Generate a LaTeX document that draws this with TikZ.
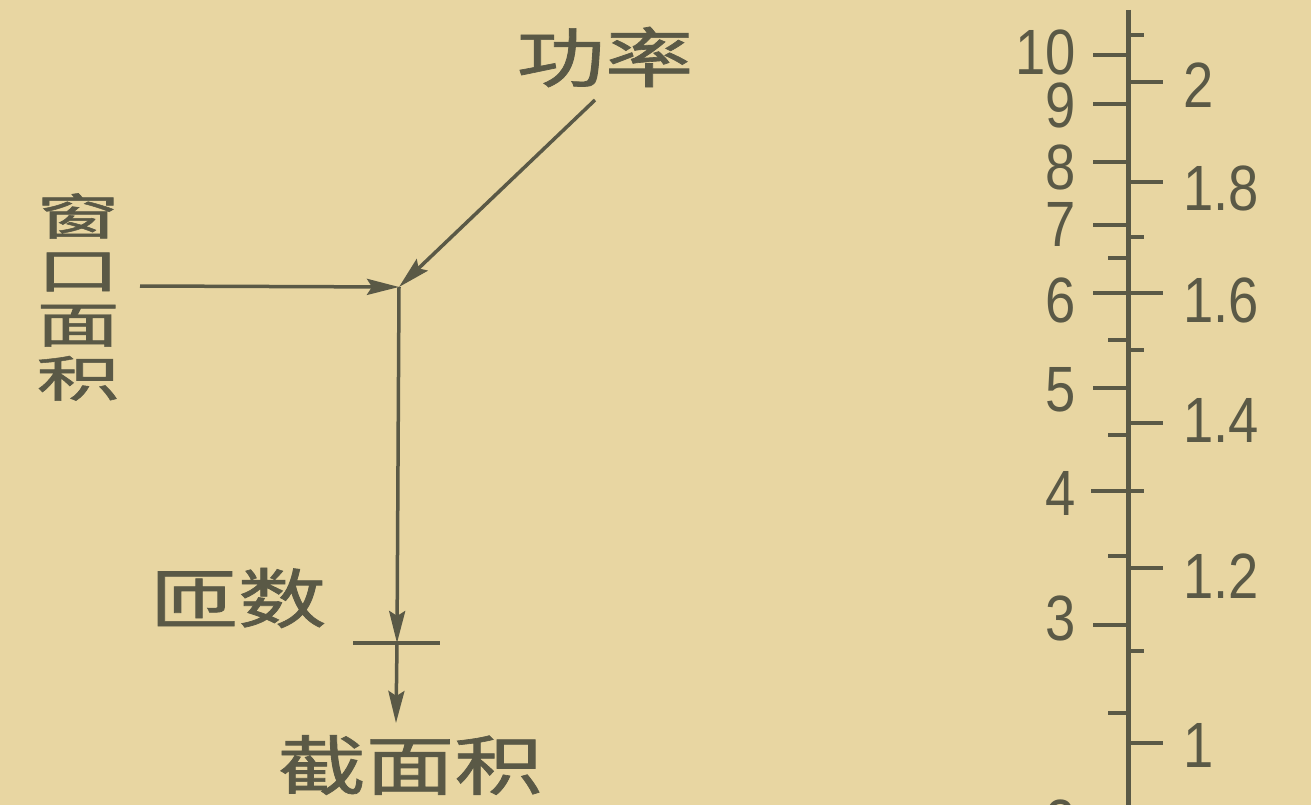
\documentclass[tikz,border=0pt]{standalone}
\usepackage{fontspec}
\usepackage{graphicx}
\setmainfont{Liberation Sans}
\newfontfamily\cjk{Noto Sans CJK SC}[FakeBold=1.0]
\usetikzlibrary{arrows.meta}
\definecolor{paper}{HTML}{E8D6A2}
\definecolor{ink}{HTML}{5A5946}
\tikzset{
  line/.style={draw=ink, line width=3.5pt},
  arr/.style={line, -{Stealth[length=32pt,width=16pt,inset=5pt]}},
  axisline/.style={draw=ink, line width=5pt},
  tick/.style={draw=ink, line width=3.2pt},
  num/.style={text=ink, inner sep=0pt, font=\fontsize{64}{64}\selectfont},
  cjklabel/.style={text=ink, inner sep=0pt, font=\cjk\fontsize{65}{65}\selectfont},
}
\newcommand{\nmx}[1]{\scalebox{0.85}[1]{#1}}
\newcommand{\widechars}[1]{\scalebox{1.36}[1]{#1}}
\newcommand{\vstack}[1]{\vbox{\lineskiplimit=-200pt\baselineskip=54pt\halign{\hfil##\hfil\cr #1}}}
\begin{document}
\begin{tikzpicture}[x=1pt,y=-1pt]
\useasboundingbox (0,0) rectangle (1311,805);
\fill[paper] (0,0) rectangle (1311,805);
\clip (0,0) rectangle (1311,805);

% labels
\node[cjklabel, font=\cjk\fontsize{49}{54}\selectfont] (window) at (78,297)
  {\scalebox{1.7}[1]{\vstack{窗\cr 口\cr 面\cr 积\cr}}};
\node[cjklabel] (power) at (605,57) {\widechars{功率}};
\node[cjklabel] (turns) at (238,598) {\widechars{匝数}};
\node[cjklabel] (section) at (410,765) {\widechars{截面积}};

% connectors
\coordinate (J) at (399,287);
\coordinate (ps) at (595,100);
\coordinate (ws) at (140,286);
\coordinate (tk) at (397,643);
\coordinate (se) at (396,723);
\draw[arr] (ps) -- (J);
\draw[arr] (ws) -- (J);
\draw[arr] (J) -- (tk);
\draw[arr] (tk) -- (se);
\coordinate (tkl) at (353,643);
\coordinate (tkr) at (440,643);
\draw[line] (tkl) -- (tkr);

% scale
\coordinate (atop) at (1128,10);
\coordinate (abot) at (1128,810);
\draw[axisline] (atop) -- (abot);
\foreach \y in {55,104,162,225,293,388,625} \draw[tick] (1093,\y) -- (1128,\y);
\draw[tick] (1091,491) -- (1144,491);
\foreach \y in {258,340,435,556,713} \draw[tick] (1108,\y) -- (1128,\y);
\foreach \y in {82,182,293,423,568,743} \draw[tick] (1128,\y) -- (1163,\y);
\foreach \y in {35,237,350,651} \draw[tick] (1128,\y) -- (1144,\y);

\foreach \t/\y [count=\i] in {10/52,9/105,8/167,7/224,6/300,5/390,4/493,3/618,2/822}
  \node[num, anchor=east] (L\i) at (1076,\y) {\nmx{\t}};
\foreach \t/\y [count=\i] in {2/85,1.8/188,1.6/300,1.4/420,1.2/576,1/745}
  \node[num, anchor=west] (R\i) at (1183,\y) {\nmx{\t}};
\end{tikzpicture}
\end{document}
